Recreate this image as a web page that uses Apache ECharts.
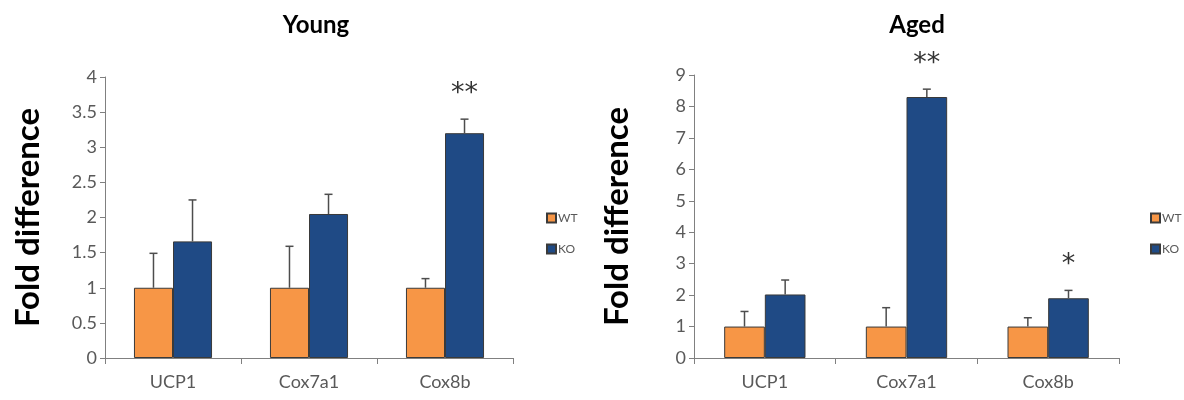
<!DOCTYPE html>
<html>
<head>
<meta charset="utf-8">
<script src="https://cdn.jsdelivr.net/npm/echarts@6/dist/echarts.min.js"></script>
<style>
  html, body { margin: 0; padding: 0; background: #fff; }
  #chart { width: 1184px; height: 400px; }
</style>
</head>
<body>
<div id="chart"></div>
<script>
// Gene expression fold change (mean + upper error), WT vs KO
const categories = ['UCP1', 'Cox7a1', 'Cox8b'];

const youngWT    = [1, 1, 1];
const youngKO    = [1.66, 2.05, 3.2];
const youngWTErr = [0.49, 0.59, 0.13];
const youngKOErr = [0.59, 0.28, 0.2];
const youngSig   = ['', '', '**'];

const agedWT    = [1, 1, 1];
const agedKO    = [2.02, 8.3, 1.9];
const agedWTErr = [0.48, 0.6, 0.28];
const agedKOErr = [0.46, 0.25, 0.25];
const agedSig   = ['', '**', '*'];

const FONT = 'Lato, "Open Sans", sans-serif';
const ORANGE = '#F79646';
const BLUE = '#1F4A85';
const BAR_FRAC = 0.287;   // each bar's share of a category band
const GRAY = '#595959';

function yAxisFor(gridIndex, max, interval) {
  return {
    type: 'value', gridIndex, min: 0, max, interval,
    name: 'Fold difference', nameLocation: 'middle', nameGap: 60,
    nameTextStyle: { fontSize: 33, fontWeight: 'bold', color: '#000', fontFamily: FONT },
    axisLine: { show: true, lineStyle: { color: '#808080', width: 1 } },
    axisTick: { show: true, length: 5, lineStyle: { color: '#808080' } },
    axisLabel: { fontSize: 18, color: GRAY, fontFamily: FONT, margin: 8 },
    splitLine: { show: false }
  };
}

function xAxisFor(gridIndex) {
  return {
    type: 'category', gridIndex, data: categories,
    axisLine: { lineStyle: { color: '#808080', width: 1 } },
    axisTick: { show: true, length: 6, inside: false, lineStyle: { color: '#808080' } },
    axisLabel: { fontSize: 18, color: GRAY, fontFamily: FONT, margin: 15 }
  };
}

function barSeries(name, idx, values, color) {
  return {
    type: 'bar', name, xAxisIndex: idx, yAxisIndex: idx,
    data: values, barWidth: (BAR_FRAC * 100) + '%', barGap: '0%',
    itemStyle: { color, borderColor: '#3a3a3a', borderWidth: 1 },
    z: 2
  };
}

// Upward error bar with cap, plus significance mark above it
function errorSeries(idx, means, errs, sig, side) {
  return {
    type: 'custom', name: 'err' + idx + side, xAxisIndex: idx, yAxisIndex: idx,
    data: means.map((m, i) => [i, m, errs[i]]),
    encode: { x: 0, y: 1 },
    z: 5, silent: true,
    renderItem: function (params, api) {
      const i = api.value(0), m = api.value(1), e = api.value(2);
      const band = api.size([1, 0])[0];
      const cx = api.coord([i, 0])[0] + side * band * BAR_FRAC / 2;
      const yBase = api.coord([i, m])[1];
      const yTop = api.coord([i, m + e])[1];
      const style = { stroke: '#4d4d4d', lineWidth: 1.5 };
      const children = [
        { type: 'line', shape: { x1: cx, y1: yBase, x2: cx, y2: yTop }, style },
        { type: 'line', shape: { x1: cx - 4, y1: yTop, x2: cx + 4, y2: yTop }, style }
      ];
      const s = sig[params.dataIndex];
      if (s) {
        children.push({
          type: 'text',
          style: {
            text: s, x: cx, y: yTop - 25, align: 'center', verticalAlign: 'middle',
            fill: '#333', font: '27px "DejaVu Sans", sans-serif'
          }
        });
      }
      return { type: 'group', children };
    }
  };
}

function legendAt(left) {
  return {
    data: ['WT', 'KO'], orient: 'vertical', left, top: 207,
    itemWidth: 9, itemHeight: 9, itemGap: 19, icon: 'rect',
    textStyle: { fontSize: 12, color: GRAY, fontFamily: FONT, padding: [0, 0, 0, -3] },
    selectedMode: false
  };
}

const option = {
  animation: false,
  title: [
    { text: 'Young', left: 311, top: 8, textAlign: 'center',
      textStyle: { fontSize: 24, fontWeight: 'bold', color: '#000', fontFamily: FONT } },
    { text: 'Aged', left: 912, top: 8, textAlign: 'center',
      textStyle: { fontSize: 24, fontWeight: 'bold', color: '#000', fontFamily: FONT } }
  ],
  legend: [legendAt(541), legendAt(1145)],
  grid: [
    { left: 105, right: 671, top: 77, bottom: 42 },
    { left: 694, right: 65, top: 75, bottom: 42 }
  ],
  xAxis: [xAxisFor(0), xAxisFor(1)],
  yAxis: [yAxisFor(0, 4, 0.5), yAxisFor(1, 9, 1)],
  series: [
    barSeries('WT', 0, youngWT, ORANGE),
    barSeries('KO', 0, youngKO, BLUE),
    barSeries('WT', 1, agedWT, ORANGE),
    barSeries('KO', 1, agedKO, BLUE),
    errorSeries(0, youngWT, youngWTErr, ['', '', ''], -1),
    errorSeries(0, youngKO, youngKOErr, youngSig, 1),
    errorSeries(1, agedWT, agedWTErr, ['', '', ''], -1),
    errorSeries(1, agedKO, agedKOErr, agedSig, 1)
  ]
};

echarts.init(document.getElementById('chart'), null, { renderer: 'canvas' }).setOption(option);
</script>
</body>
</html>
